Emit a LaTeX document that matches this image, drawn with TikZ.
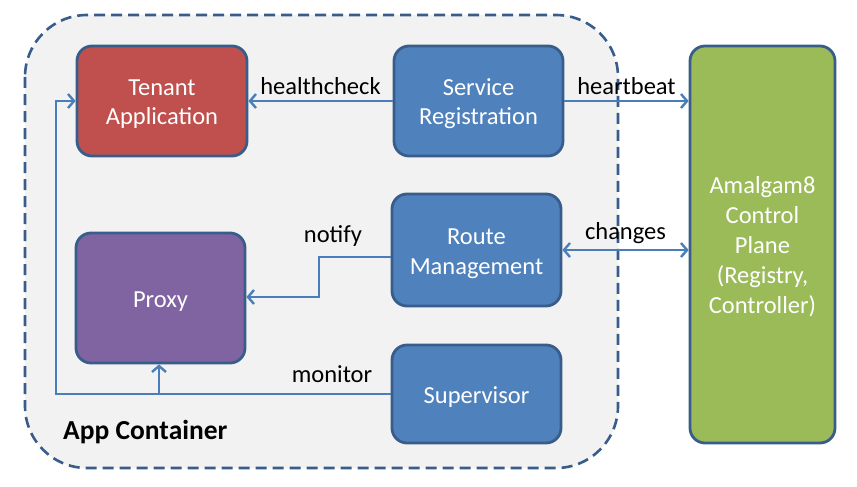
\documentclass[tikz,border=0pt]{standalone}
\usepackage{fontspec}
\setmainfont{Carlito}
\usetikzlibrary{arrows.meta,calc}
\definecolor{bord}{HTML}{385D8A}
\definecolor{cblue}{HTML}{4F81BD}
\definecolor{cred}{HTML}{C0504D}
\definecolor{cpurple}{HTML}{8064A2}
\definecolor{cgreen}{HTML}{9BBB59}
\definecolor{arr}{HTML}{4A7EBB}
\definecolor{cont}{HTML}{F2F2F2}
\newcommand{\bxtext}[1]{\raisebox{-3pt}[\height][\depth]{\begin{tabular}{@{}c@{}}#1\end{tabular}}}
\tikzset{
  box/.style={draw=bord, line width=2.8pt, rounded corners=15pt, text=white,
    inner sep=0pt, font=\fontsize{24.5}{30}\selectfont},
  conn/.style={draw=arr, line width=2.8pt, -{Straight Barb[length=6pt,width=14pt,line width=2.4pt]}},
  lbl/.style={font=\fontsize{24.5}{30}\selectfont, text=black, inner sep=0pt}
}
\begin{document}
\begin{tikzpicture}[x=1pt,y=-1pt]
\useasboundingbox (0,0) rectangle (857,487);
\fill[white] (0,0) rectangle (857,487);
% container
\draw[draw=bord, fill=cont, line width=2.6pt, dash pattern=on 11pt off 6pt, rounded corners=62pt]
  (25,15) rectangle (618,468);
\node[lbl, font=\fontsize{27.5}{30}\selectfont\bfseries, anchor=west] (ac) at (63,432) {App Container};
% boxes
\node[box, fill=cred, minimum width=170pt, minimum height=110pt] (tenant) at (162,101) {\bxtext{Tenant\\Application}};
\node[box, fill=cblue, minimum width=169pt, minimum height=110pt] (sreg) at (478.5,101) {\bxtext{Service\\Registration}};
\node[box, fill=cblue, minimum width=169pt, minimum height=112pt] (route) at (476.5,250) {\bxtext{Route\\Management}};
\node[box, fill=cpurple, minimum width=169pt, minimum height=130pt] (proxy) at (160.5,298) {\bxtext{Proxy}};
\node[box, fill=cblue, minimum width=169pt, minimum height=98pt] (sup) at (476.5,394) {\bxtext{Supervisor}};
\node[box, fill=cgreen, minimum width=145pt, minimum height=397pt] (amal) at (762.5,244.5) {\bxtext{Amalgam8\\Control\\Plane\\(Registry,\\Controller)}};
% connectors
\draw[conn] (sreg.west) -- (tenant.east) node[lbl, midway, above=5pt] (hc) {healthcheck};
\draw[conn] (sreg.east) -- (sreg.east -| amal.west) node[lbl, midway, above=5pt] (hb) {heartbeat};
\draw[conn, {Straight Barb[length=6pt,width=14pt,line width=2.4pt]}-{Straight Barb[length=6pt,width=14pt,line width=2.4pt]}]
  (route.east) -- (route.east -| amal.west) node[lbl, midway, above=5pt] (ch) {changes};
\coordinate (n1) at (319,257);
\coordinate (n2) at (319,297);
\draw[conn] (route.west |- n1) -- (n1) -- (n2) -- (n2 -| proxy.east);
\node[lbl] (nt) at (333,236) {notify};
\coordinate (m1) at (56,394);
\coordinate (m2) at (56,101);
\coordinate (mp) at (159,394);
\draw[conn] (sup.west) -- (m1) -- (m2) -- (tenant.west);
\draw[conn] (mp) -- (proxy.south -| mp);
\node[lbl] (mn) at (332,374) {monitor};
\end{tikzpicture}
\end{document}
